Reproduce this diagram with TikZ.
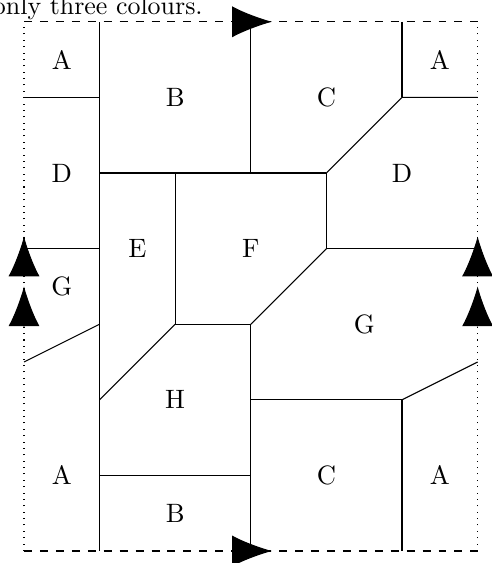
\documentclass[tikz,border=0pt]{standalone}
\usetikzlibrary{arrows.meta}
\begin{document}
\begin{tikzpicture}[x=1cm,y=1cm,
  border/.style={line width=0.4pt},
  region/.style={line width=0.4pt},
  tipmark/.style={line width=0.4pt,-{Latex[length=15pt,width=11.7pt]}},
  lbl/.style={inner sep=0pt}]
\useasboundingbox (-0.3175,-0.1587) rectangle (6.190,7.288);
\node[anchor=base east, inner sep=0pt, scale=0.975] (cap) at (2.37,7.09) {only three colours.};
% frame corners
\coordinate (sw) at (0,0);
\coordinate (se) at (6,0);
\coordinate (nw) at (0,7);
\coordinate (ne) at (6,7);
\draw[border,dashed] (nw) -- (ne);
\draw[border,dashed] (sw) -- (se);
\draw[border,dotted] (sw) -- (nw);
\draw[border,dotted] (se) -- (ne);
% region boundaries
\draw[region] (1,0) -- (1,7);
\draw[region] (0,6) -- (1,6);
\draw[region] (0,4) -- (1,4);
\draw[region] (0,2.5) -- (1,3);
\draw[region] (3,7) -- (3,5);
\draw[region] (1,5) -- (4,5);
\draw[region] (2,5) -- (2,3);
\draw[region] (4,5) -- (4,4);
\draw[region] (4,5) -- (5,6) -- (6,6);
\draw[region] (5,7) -- (5,6);
\draw[region] (4,4) -- (6,4);
\draw[region] (4,4) -- (3,3);
\draw[region] (2,3) -- (3,3);
\draw[region] (2,3) -- (1,2);
\draw[region] (3,3) -- (3,0);
\draw[region] (1,1) -- (3,1);
\draw[region] (3,2) -- (5,2);
\draw[region] (5,2) -- (5,0);
\draw[region] (5,2) -- (6,2.5);
% identification arrows
\coordinate (t0) at (2.74,7); \coordinate (t1) at (3.28,7);
\coordinate (b0) at (2.74,0); \coordinate (b1) at (3.28,0);
\coordinate (l0) at (0,3.64); \coordinate (l1) at (0,4.16);
\coordinate (l2) at (0,2.98); \coordinate (l3) at (0,3.50);
\coordinate (r0) at (6,3.64); \coordinate (r1) at (6,4.16);
\coordinate (r2) at (6,2.98); \coordinate (r3) at (6,3.50);
\draw[tipmark] (t0) -- (t1);
\draw[tipmark] (b0) -- (b1);
\draw[tipmark] (l0) -- (l1);
\draw[tipmark] (l2) -- (l3);
\draw[tipmark] (r0) -- (r1);
\draw[tipmark] (r2) -- (r3);
% labels
\node[lbl] (a1) at (0.5,6.5) {A};
\node[lbl] (b1l) at (2,6) {B};
\node[lbl] (c1) at (4,6) {C};
\node[lbl] (a2) at (5.5,6.5) {A};
\node[lbl] (d1) at (0.5,5) {D};
\node[lbl] (d2) at (5,5) {D};
\node[lbl] (e) at (1.5,4) {E};
\node[lbl] (f) at (3,4) {F};
\node[lbl] (g1) at (0.5,3.5) {G};
\node[lbl] (g2) at (4.5,3) {G};
\node[lbl] (h) at (2,2) {H};
\node[lbl] (a3) at (0.5,1) {A};
\node[lbl] (b2) at (2,0.5) {B};
\node[lbl] (c2) at (4,1) {C};
\node[lbl] (a4) at (5.5,1) {A};
\end{tikzpicture}
\end{document}
